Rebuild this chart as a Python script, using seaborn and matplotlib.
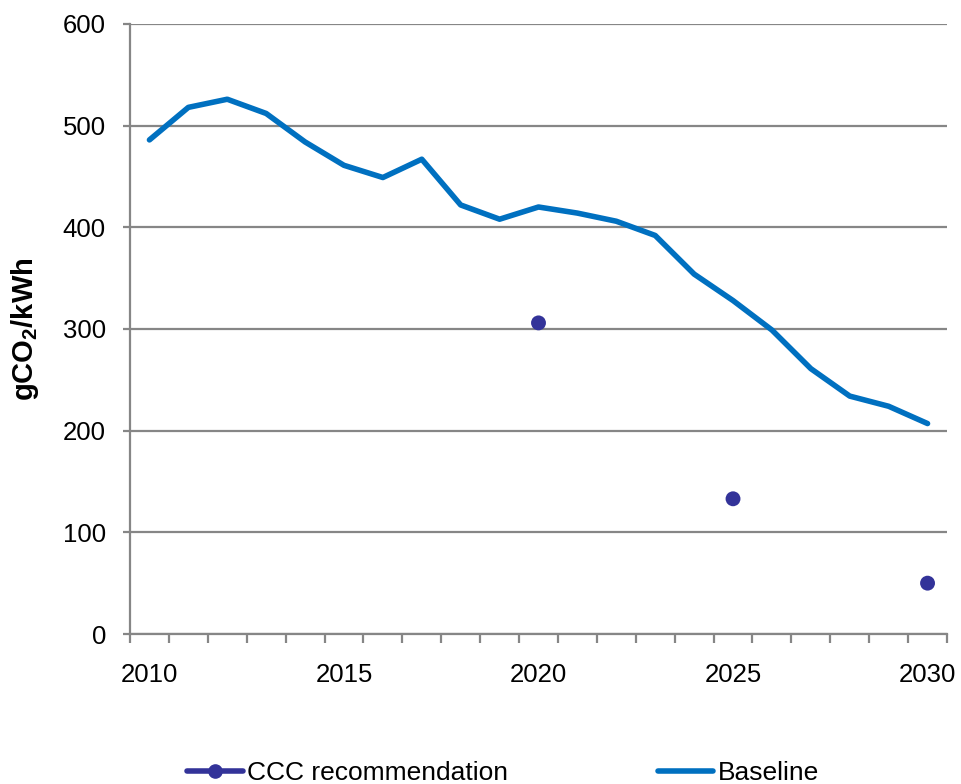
import matplotlib
matplotlib.use("Agg")
import matplotlib.pyplot as plt
from matplotlib.ticker import FixedLocator
from matplotlib.lines import Line2D
import seaborn as sns
import pandas as pd

# Grid carbon intensity, gCO2/kWh
years = list(range(2010, 2031))
baseline = [486, 518, 526, 512, 484, 461, 449, 467, 422, 408, 420,
            414, 406, 392, 354, 328, 299, 261, 234, 224, 207]
ccc_years = [2020, 2025, 2030]
ccc_values = [306, 133, 50]

x_tick_labels = ["2010", "2015", "2020", "2025", "2030"]
y_ticks = [0, 100, 200, 300, 400, 500, 600]

BASE_COLOR = "#0070C0"
CCC_COLOR = "#333399"
GRID_COLOR = "#868686"

sns.set_theme(style="white")
plt.rcParams["font.family"] = ["Liberation Sans", "DejaVu Sans"]
plt.rcParams["mathtext.fontset"] = "custom"
plt.rcParams["mathtext.rm"] = "Liberation Sans"
plt.rcParams["mathtext.bf"] = "Liberation Sans:bold"
plt.rcParams["text.color"] = "black"

df_base = pd.DataFrame({"year": years, "value": baseline})
df_ccc = pd.DataFrame({"year": ccc_years, "value": ccc_values})

fig = plt.figure(figsize=(9.61, 7.84), dpi=100)
ax = fig.add_axes([130 / 961, 1 - 634 / 784, (947 - 130) / 961, (634 - 24) / 784])

sns.lineplot(data=df_base, x="year", y="value", ax=ax, color=BASE_COLOR,
             linewidth=4.0, solid_capstyle="round", zorder=3)
sns.scatterplot(data=df_ccc, x="year", y="value", ax=ax, color=CCC_COLOR,
                s=115, edgecolor="none", zorder=4)

ax.set_xlim(2009.5, 2030.5)
ax.set_ylim(0, 600)

ax.set_yticks(y_ticks)
ax.set_yticklabels([str(v) for v in y_ticks])
ax.yaxis.grid(True, color=GRID_COLOR, linewidth=1.6)
ax.xaxis.grid(False)
ax.set_axisbelow(True)

ax.xaxis.set_major_locator(FixedLocator([int(t) for t in x_tick_labels]))
ax.set_xticklabels(x_tick_labels)
ax.xaxis.set_minor_locator(FixedLocator([y - 0.5 for y in years] + [2030.5]))

ax.tick_params(axis="x", which="major", length=0, pad=21, labelsize=18.5, labelcolor="black")
ax.tick_params(axis="x", which="minor", length=6.5, width=1.6, color=GRID_COLOR, bottom=True)
ax.tick_params(axis="y", which="major", length=5.3, width=1.6, color=GRID_COLOR, left=True,
               pad=12, labelsize=18.5, labelcolor="black")

for side in ["top", "right"]:
    ax.spines[side].set_visible(False)
for side in ["left", "bottom"]:
    ax.spines[side].set_color(GRID_COLOR)
    ax.spines[side].set_linewidth(1.6)

ax.set_xlabel("")
ax.set_ylabel(r"gCO$_\mathbf{2}$/kWh", fontsize=21, fontweight="bold", color="black")
ax.yaxis.set_label_coords(-0.109, 0.5)

handles = [
    Line2D([], [], color=CCC_COLOR, linewidth=4.0, marker="o", markersize=9.5),
    Line2D([], [], color=BASE_COLOR, linewidth=4.0),
]
fig.legend(handles, ["CCC recommendation", "Baseline"], loc="center",
           bbox_to_anchor=(0.5234, 1 - 773 / 784), ncol=2, frameon=False,
           fontsize=19, handlelength=2.1, handletextpad=0.15, columnspacing=5.7,
           borderpad=0.0, labelcolor="black")

fig.savefig("out.png", dpi=100)
